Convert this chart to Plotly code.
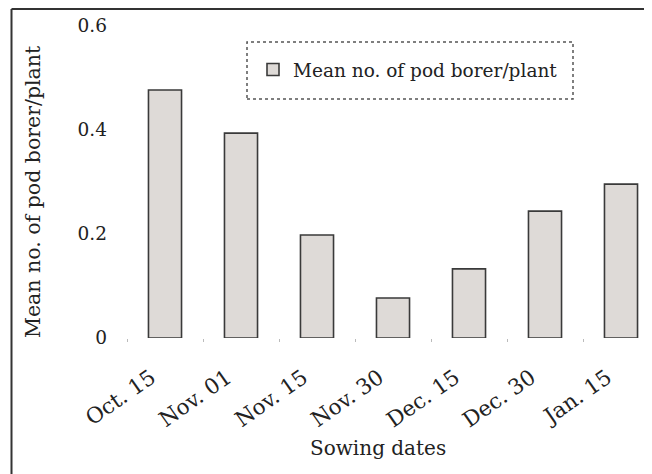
import plotly.graph_objects as go

categories = ["Oct. 15", "Nov. 01", "Nov. 15", "Nov. 30", "Dec. 15", "Dec. 30", "Jan. 15"]
values = [0.477, 0.394, 0.198, 0.077, 0.133, 0.244, 0.296]
y_ticks = [0, 0.2, 0.4, 0.6]
y_tick_labels = ["0", "0.2", "0.4", "0.6"]
series_name = "Mean no. of pod borer/plant"
y_title = "Mean no. of pod borer/plant"
x_title = "Sowing dates"

FONT = "DejaVu Serif"
OFF = 8  # page body margin offset
W, H = 652, 474
L, R, T, B = 127, 652, 26, 338  # target screen coords of plot area
pw, ph = R - L, B - T

def px(x):
    return (x - L) / pw

def py(y):
    return (B - y) / ph

fig = go.Figure()
fig.add_trace(go.Bar(
    x=categories, y=values, name=series_name,
    marker=dict(color="#dedad7", line=dict(color="#3a3a3a", width=1.6)),
    showlegend=True,
))

fig.update_layout(
    width=W, height=H,
    margin=dict(l=L - OFF, r=W - (R - OFF), t=T - OFF, b=H - (B - OFF), pad=0),
    paper_bgcolor="white", plot_bgcolor="white",
    bargap=0.565,
    font=dict(family=FONT, color="#222", size=17),
    showlegend=True,
    legend=dict(
        x=px(253), y=py(70), xanchor="left", yanchor="middle",
        bgcolor="rgba(0,0,0,0)", borderwidth=0,
        font=dict(family=FONT, size=18.5, color="#222"),
        itemwidth=30,
    ),
    xaxis=dict(
        range=[-0.5, -0.5 + pw / 76.0],
        showline=False, showgrid=False, zeroline=False,
        tickangle=-35, tickfont=dict(family=FONT, size=21.5, color="#222"),
        ticks="outside", tickson="boundaries", ticklen=3, tickcolor="#bbb", tickwidth=1,
        ticklabelstandoff=22, ticklabelshift=-14,
        fixedrange=True,
    ),
    yaxis=dict(
        range=[0, 0.6], tickvals=y_ticks, ticktext=y_tick_labels,
        showline=False, showgrid=False, zeroline=False,
        tickfont=dict(family=FONT, size=18.5, color="#222"),
        ticks="", ticklabelstandoff=19,
        fixedrange=True,
    ),
    shapes=[
        dict(type="line", xref="paper", yref="paper",
             x0=px(11.5), x1=px(11.5), y0=py(OFF + 1), y1=py(490),
             line=dict(color="#333", width=2)),
        dict(type="line", xref="paper", yref="paper",
             x0=px(11.5), x1=px(680), y0=py(OFF + 1), y1=py(OFF + 1),
             line=dict(color="#333", width=2)),
        dict(type="rect", xref="paper", yref="paper",
             x0=px(247), x1=px(573), y0=py(99), y1=py(42),
             line=dict(color="#555", width=1.5, dash="dot"),
             layer="below"),
    ],
    annotations=[
        dict(text=y_title, xref="paper", yref="paper",
             x=px(33), y=py(192), textangle=-90, showarrow=False,
             xanchor="center", yanchor="middle",
             font=dict(family=FONT, size=20.5, color="#222")),
        dict(text=x_title, xref="paper", yref="paper",
             x=px(378), y=py(448), showarrow=False,
             xanchor="center", yanchor="middle",
             font=dict(family=FONT, size=20, color="#222")),
    ],
)

fig.write_html("out.html")
